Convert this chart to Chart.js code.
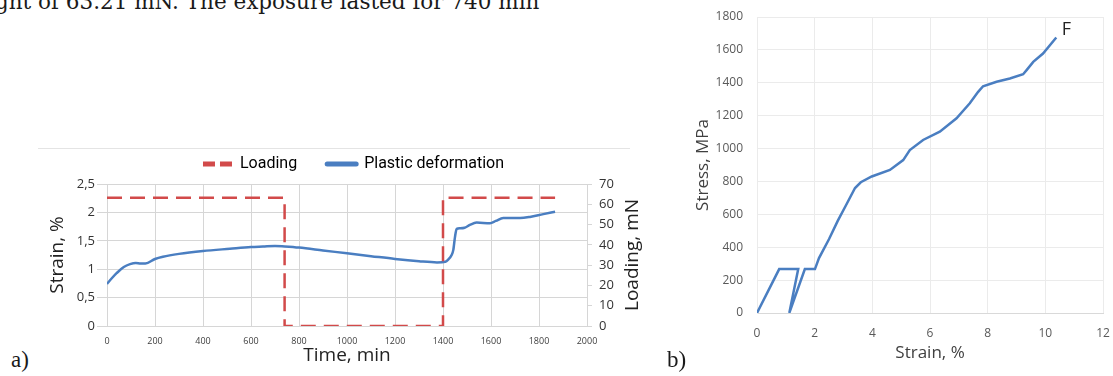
<!DOCTYPE html>
<html>
<head>
<meta charset="utf-8">
<script src="https://cdn.jsdelivr.net/npm/chart.js@4.4.1/dist/chart.umd.min.js"></script>
<style>
  html, body { margin: 0; padding: 0; background: #fff; }
  body { position: relative; width: 1113px; height: 376px; overflow: hidden; }
  #note { position: absolute; left: -5px; top: -9px; font: 21.5px/22px 'DejaVu Serif', serif; color: #1a1a1a; white-space: nowrap; }
  .tag { position: absolute; font: 23px/26px 'Liberation Serif', serif; color: #1a1a1a; }
  #frameA { position: absolute; left: 38px; top: 148px; width: 592px; border-top: 1px solid #e4e4e4; }
  #wrapA { position: absolute; left: 38px; top: 126px; }
  #wrapB { position: absolute; left: 690px; top: 0; }
</style>
</head>
<body>
<div id="note">ght of 63.21 mN. The exposure lasted for 740 min</div>
<div id="frameA"></div>
<div id="wrapA"><canvas id="creep" width="631" height="250"></canvas></div>
<div id="wrapB"><canvas id="tension" width="423" height="376"></canvas></div>
<div class="tag" style="left:11px; top:347px;">a)</div>
<div class="tag" style="left:667px; top:347px;">b)</div>
<script>
  /* ── a) creep test: strain and load over time ───────────────────── */

  var CREEP_TIME = [0, 20, 40, 70, 96, 120, 140, 160, 200, 233, 300, 400, 512, 600, 650, 700,
    740, 800, 900, 1000, 1100, 1200, 1300, 1375, 1410, 1422, 1436, 1443, 1450, 1457, 1470,
    1490, 1512, 1540, 1596, 1620, 1651, 1721, 1762, 1818, 1867];
  var CREEP_STRAIN = [0.74, 0.84, 0.93, 1.04, 1.09, 1.11, 1.10, 1.10, 1.18, 1.22, 1.27, 1.32,
    1.36, 1.39, 1.40, 1.41, 1.40, 1.38, 1.33, 1.28, 1.23, 1.18, 1.14, 1.12, 1.13, 1.17, 1.25,
    1.34, 1.57, 1.71, 1.72, 1.73, 1.78, 1.82, 1.81, 1.85, 1.90, 1.90, 1.92, 1.97, 2.01];

  var LOAD_TIME = [0, 740, 740, 1400, 1400, 1867];
  var LOAD_MN = [63.21, 63.21, 0, 0, 63.21, 63.21];

  /* ── b) tension test: stress vs strain ──────────────────────────── */

  var TENS_STRAIN = [0, 0.77, 1.43, 1.12, 1.66, 2.01, 2.15, 2.5, 2.8, 3.1, 3.4, 3.6, 3.98,
    4.61, 5.07, 5.30, 5.76, 6.34, 6.92, 7.38, 7.67, 7.84, 8.31, 8.77, 9.23, 9.35, 9.58, 9.92, 10.38];
  var TENS_STRESS = [0, 267, 267, 0, 267, 267, 334, 450, 560, 660, 760, 795, 830,
    870, 930, 991, 1052, 1103, 1184, 1275, 1345, 1379, 1406, 1426, 1452, 1477, 1527, 1578, 1675];

  var BLUE = '#4a7ec1';
  var RED = '#d24a4a';
  var GRID_A = '#d6d6d6';
  var GRID_B = '#ebebeb';

  Chart.defaults.font.family = "'Open Sans', sans-serif";
  Chart.defaults.color = '#333';

  function pairs(xs, ys) {
    return xs.map(function (x, i) { return { x: x, y: ys[i] }; });
  }

  /* plain numbers, decimal comma, no thousands separator */
  function plain(v) { return String(v).replace('.', ','); }

  /* secondary axis title, read bottom-to-top like the left one */
  var rightTitle = {
    id: 'rightTitle',
    afterDraw: function (chart, args, opts) {
      var s = chart.scales[opts.scaleId];
      var ctx = chart.ctx;
      ctx.save();
      ctx.translate(s.right - opts.offset, (s.top + s.bottom) / 2);
      ctx.rotate(-Math.PI / 2);
      ctx.font = opts.size + "px 'Open Sans', sans-serif";
      ctx.fillStyle = opts.color;
      ctx.textAlign = 'center';
      ctx.textBaseline = 'middle';
      ctx.fillText(opts.text, 0, 0);
      ctx.restore();
    }
  };

  /* letter at the last point of the curve */
  var endLabel = {
    id: 'endLabel',
    afterDatasetsDraw: function (chart, args, opts) {
      var pts = chart.getDatasetMeta(0).data;
      var p = pts[pts.length - 1];
      var ctx = chart.ctx;
      ctx.save();
      ctx.font = opts.size + "px 'Open Sans', sans-serif";
      ctx.fillStyle = opts.color;
      ctx.textAlign = 'center';
      ctx.textBaseline = 'middle';
      ctx.fillText(opts.text, p.x + opts.dx, p.y + opts.dy);
      ctx.restore();
    }
  };

  new Chart(document.getElementById('creep'), {
    type: 'line',
    data: {
      datasets: [
        {
          label: 'Loading',
          data: pairs(LOAD_TIME, LOAD_MN),
          yAxisID: 'y1',
          borderColor: RED,
          borderWidth: 2.5,
          borderDash: [15, 8],
          pointRadius: 0,
          tension: 0,
          legendDash: [12, 5]
        },
        {
          label: 'Plastic deformation',
          data: pairs(CREEP_TIME, CREEP_STRAIN),
          yAxisID: 'y',
          borderColor: BLUE,
          borderWidth: 2.5,
          pointRadius: 0,
          cubicInterpolationMode: 'monotone'
        }
      ]
    },
    options: {
      responsive: false,
      animation: false,
      events: [],
      plugins: {
        legend: {
          position: 'top',
          labels: {
            usePointStyle: true,
            pointStyleWidth: 29,
            padding: 30,
            color: '#262626',
            font: { family: 'Roboto', size: 16 },
            generateLabels: function (chart) {
              return chart.data.datasets.map(function (ds, i) {
                return {
                  text: ds.label,
                  datasetIndex: i,
                  pointStyle: 'line',
                  strokeStyle: ds.borderColor,
                  fillStyle: ds.borderColor,
                  lineWidth: 5,
                  lineDash: ds.legendDash || [],
                  lineCap: ds.legendDash ? 'butt' : 'round',
                  hidden: false
                };
              });
            }
          }
        },
        /* thin spacer between legend and plot */
        title: { display: true, text: '', weight: 500, padding: 0, font: { size: 1, lineHeight: '2px' } },
        tooltip: { enabled: false },
        rightTitle: { scaleId: 'y1', text: 'Loading, mN', offset: 36, size: 19, color: '#222' }
      },
      scales: {
        x: {
          type: 'linear',
          min: 0,
          max: 2000,
          ticks: { stepSize: 200, padding: 10, color: '#404040', font: { size: 9 }, callback: plain },
          grid: { color: GRID_A, drawTicks: false },
          border: { color: GRID_A },
          title: { display: true, text: 'Time, min', color: '#222', font: { size: 19 }, padding: { top: 0, bottom: 9 } },
          afterFit: function (s) { s.height = 50; }
        },
        y: {
          position: 'left',
          min: 0,
          max: 2.5,
          ticks: { stepSize: 0.5, padding: 2, color: '#333', font: { size: 13 }, callback: plain },
          grid: { color: GRID_A, tickLength: 10 },
          border: { color: GRID_A },
          title: { display: true, text: 'Strain, %', color: '#222', font: { size: 19 }, padding: { top: 8, bottom: 0 } },
          afterFit: function (s) { s.width = 69; }
        },
        y1: {
          position: 'right',
          min: 0,
          max: 70,
          ticks: { stepSize: 10, padding: 7, color: '#333', font: { size: 13 }, callback: plain },
          grid: { drawOnChartArea: false, tickLength: 5, color: GRID_A },
          border: { display: false },
          afterFit: function (s) { s.width = 82; }
        }
      }
    },
    plugins: [rightTitle]
  });

  new Chart(document.getElementById('tension'), {
    type: 'line',
    data: {
      datasets: [{
        label: 'Stress',
        data: pairs(TENS_STRAIN, TENS_STRESS),
        borderColor: BLUE,
        borderWidth: 2.5,
        pointRadius: 0,
        tension: 0
      }]
    },
    options: {
      responsive: false,
      animation: false,
      events: [],
      layout: { padding: { top: 17, right: 10 } },
      plugins: {
        legend: { display: false },
        tooltip: { enabled: false },
        endLabel: { text: 'F', dx: 10, dy: -8, size: 18, color: '#222' }
      },
      scales: {
        x: {
          type: 'linear',
          min: 0,
          max: 12,
          ticks: { stepSize: 2, padding: 3, color: '#595959', font: { size: 12 }, callback: plain },
          /* invisible tick marks keep the labels off the axis */
          grid: { color: GRID_B, tickLength: 10, tickColor: 'rgba(0,0,0,0)' },
          border: { color: '#d9d9d9' },
          title: { display: true, text: 'Strain, %', color: '#404040', font: { size: 17 }, padding: { top: 0, bottom: 13 } },
          afterFit: function (s) { s.height = 63; }
        },
        y: {
          min: 0,
          max: 1800,
          ticks: { stepSize: 200, padding: 3, color: '#595959', font: { size: 12 }, callback: plain },
          grid: { color: GRID_B, tickLength: 11, tickColor: 'rgba(0,0,0,0)' },
          border: { color: GRID_B },
          title: { display: true, text: 'Stress, MPa', color: '#404040', font: { size: 17 }, padding: { top: 3, bottom: 0 } },
          afterFit: function (s) { s.width = 67; }
        }
      }
    },
    plugins: [endLabel]
  });
</script>
</body>
</html>
